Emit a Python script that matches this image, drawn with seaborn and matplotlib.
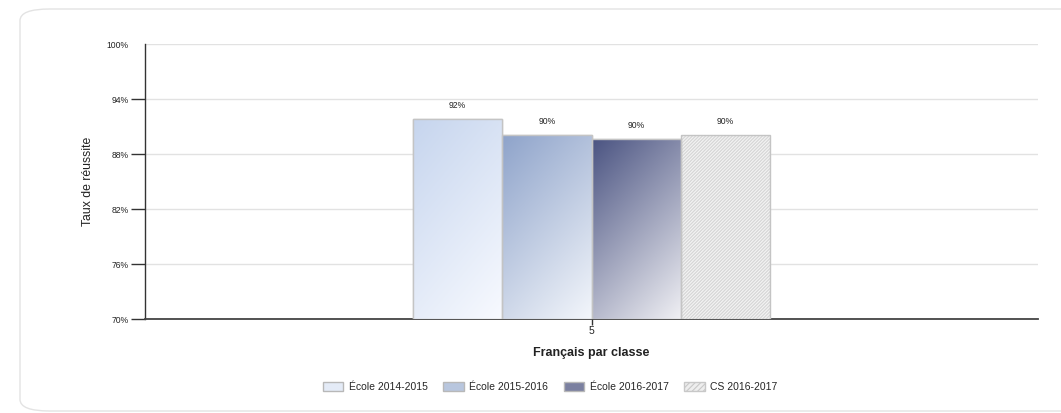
import numpy as np
import pandas as pd
import seaborn as sns
from matplotlib import pyplot as plt
from matplotlib.patches import Patch, Rectangle, FancyBboxPatch
from matplotlib.colors import LinearSegmentedColormap

# values
categories = ["5"]
series = ["École 2014-2015", "École 2015-2016", "École 2016-2017", "CS 2016-2017"]
values = [91.8, 90.1, 89.6, 90.1]
y_ticks = [70, 76, 82, 88, 94, 100]

# gradient start colours (top-left), all fade to near-white bottom-right
grad_start = ["#c6d5ee", "#8ea3ca", "#4b5482", None]
grad_end = ["#f8faff", "#f3f6fb", "#f0f0f4", None]
legend_face = ["#e4ebf7", "#b8c6de", "#7b80a0", "#e6e6e6"]

sns.set_style("white")
plt.rcParams['font.family'] = ['Liberation Sans', 'DejaVu Sans']
plt.rcParams['hatch.linewidth'] = 0.8

df = pd.DataFrame({"classe": categories * len(series), "serie": series, "taux": values})

fig = plt.figure(figsize=(10.61, 4.13), dpi=100)
card = FancyBboxPatch((20 / 1061, 2 / 413), 1.1, 402 / 413, transform=fig.transFigure,
                      boxstyle="round,pad=0,rounding_size=0.028", facecolor="none",
                      edgecolor="#e3e3e3", linewidth=1, zorder=-1)
fig.patches.append(card)

ax = fig.add_axes([145 / 1061, 1 - 319 / 413, (1038 - 145) / 1061, (319 - 44) / 413])
ax.set_facecolor("none")

sns.barplot(data=df, x="classe", y="taux", hue="serie", hue_order=series, width=0.4,
            ax=ax, legend=False, errorbar=None, palette=["white"] * 4,
            edgecolor="#c4c4c4", linewidth=1, zorder=3)

for i, cont in enumerate(ax.containers):
    bar = cont.patches[0]
    x0, w = bar.get_x(), bar.get_width()
    top = bar.get_y() + bar.get_height()
    if grad_start[i] is not None:
        cmap = LinearSegmentedColormap.from_list("g%d" % i, [grad_start[i], grad_end[i]])
        gx, gy = np.meshgrid(np.linspace(0, 1, 64), np.linspace(0, 1, 256))
        grad = gx * 0.35 + gy * 0.65
        im = ax.imshow(grad, cmap=cmap, extent=(x0, x0 + w, 70, top), origin="upper",
                       aspect="auto", zorder=3.5, interpolation="bilinear")
        im.set_clip_path(bar)
    else:
        bar.set_facecolor("#d6d6d6")
        bar.set_edgecolor("#f4f4f4")
        bar.set_hatch("//////////")
        bar.set_linewidth(0)
    ax.add_patch(Rectangle((x0, 70), w, top - 70, fill=False, edgecolor="#c4c4c4",
                           linewidth=1, zorder=4))
    ax.text(x0 + w / 2, top + 1.0, "%d%%" % round(values[i]), ha="center", va="bottom",
            fontsize=6.2, color="#222222", zorder=5)

ax.set_xlim(-0.5, 0.5)
ax.set_ylim(70, 100)
ax.set_yticks(y_ticks)
ax.set_yticklabels(["%d%%" % t for t in y_ticks], fontsize=6.2, color="#222222")
ax.yaxis.grid(True, color="#e2e2e2", linewidth=1, zorder=0)
ax.set_axisbelow(True)
ax.tick_params(axis="y", direction="out", length=10, width=1, color="#333333", pad=2, left=True)
ax.yaxis.get_major_ticks()[-1].tick1line.set_visible(False)
ax.tick_params(axis="x", direction="out", length=4, width=1, color="#333333", pad=1,
               labelsize=7.5, bottom=True)

for side in ["top", "right"]:
    ax.spines[side].set_visible(False)
ax.spines["left"].set_color("#333333")
ax.spines["bottom"].set_color("#444444")
ax.spines["left"].set_linewidth(1)
ax.spines["bottom"].set_linewidth(1.3)

ax.set_ylabel("Taux de réussite", fontsize=8.8, color="#222222", labelpad=9)
ax.set_xlabel("Français par classe", fontsize=9, fontweight="bold", color="#222222", labelpad=8)

handles = []
for i, name in enumerate(series):
    if i == 3:
        handles.append(Patch(facecolor="#eeeeee", edgecolor="#c8c8c8", hatch="//////", label=name))
    else:
        handles.append(Patch(facecolor=legend_face[i], edgecolor="#b8b8b8", label=name))
fig.legend(handles=handles, loc="center", bbox_to_anchor=(550 / 1061, 1 - 387 / 413),
           ncol=4, frameon=False, fontsize=7.5, handlelength=2.0, handleheight=0.9,
           columnspacing=1.5, handletextpad=0.5)

fig.savefig("out.png", dpi=100)
